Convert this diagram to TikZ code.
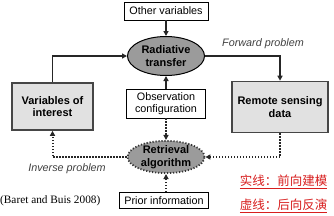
\documentclass[tikz,border=0pt]{standalone}
\usepackage{fontspec}
\setmainfont{Liberation Sans}
\newfontfamily\citefont{Liberation Serif}
\newfontfamily\cjk{Noto Sans CJK SC}
\usetikzlibrary{arrows.meta, positioning, shapes.geometric}
\definecolor{ellgray}{RGB}{155,155,155}
\definecolor{boxgray}{RGB}{225,225,225}
\definecolor{edgegray}{RGB}{70,70,70}
\definecolor{notered}{RGB}{215,30,30}

\begin{document}
\begin{tikzpicture}[
    x=1pt, y=-1pt,
    font=\fontsize{10.8}{12}\selectfont,
    plainbox/.style={rectangle, draw=black, line width=0.8pt, fill=white, inner sep=1pt, align=center},
    mainbox/.style={rectangle, draw=edgegray, line width=1.6pt, fill=boxgray, minimum width=81pt, align=center, font=\fontsize{11}{12.5}\selectfont\bfseries},
    solidell/.style={ellipse, draw=black, line width=1pt, fill=ellgray, minimum width=77pt, minimum height=39pt, inner sep=0pt, align=center, font=\fontsize{11}{12.5}\selectfont\bfseries},
    dotell/.style={solidell, draw=black!80, line width=1.8pt, dash pattern=on 1.2pt off 1.8pt, minimum height=30pt},
    arrow/.style={-{Triangle[length=5pt, width=5pt]}, line width=1.6pt, draw=black!85},
    darrow/.style={arrow, line width=2pt, dash pattern=on 1.2pt off 1.8pt},
    note/.style={text=notered, font=\cjk\fontsize{12.5}{14}\selectfont},
]
    \useasboundingbox (0,0) rectangle (334,215);

    % Forward part
    \node[plainbox, minimum width=84pt, minimum height=18pt] (other) at (166,11) {Other variables};
    \node[solidell] (rt) at (166,56) {Radiative\\transfer};
    \node[mainbox, minimum height=47pt] (vars) at (52.5,106.5) {Variables of\\interest};
    \node[plainbox, minimum width=79pt, minimum height=29pt] (obs) at (166,103.5) {Observation\\configuration};
    \node[mainbox, minimum width=96pt, minimum height=51pt] (rsd) at (280,107) {Remote sensing\\data};

    % Inverse part
    \node[dotell] (ra) at (166,157) {Retrieval\\algorithm};
    \node[plainbox, minimum width=89pt, minimum height=16pt] (prior) at (164,200.5) {Prior information};

    % Labels
    \node[font=\fontsize{10.8}{12}\selectfont\itshape, text=black!75] (fwd) at (263,44) {Forward problem};
    \node[font=\fontsize{10.8}{12}\selectfont\itshape, text=black!75] (inv) at (67,169) {Inverse problem};
    \node[font=\citefont\fontsize{11.3}{13}\selectfont, anchor=west, inner sep=0pt] (cite) at (0,201) {(Baret and Buis 2008)};
    \node[note] (solidnote) at (283.5,182) {\underline{实线：前向建模}};
    \node[note] (dotnote) at (283.5,206) {\underline{虚线：后向反演}};

    % Solid arrows
    \draw[arrow] (other) -- (rt);
    \draw[arrow] (vars.north) |- (rt.west);
    \draw[arrow] (rt.east) -| (rsd.north);
    \draw[arrow] (obs) -- (rt);

    % Dotted arrows
    \draw[darrow] (obs) -- (ra);
    \draw[darrow] (prior.north -| ra) -- (ra);
    \draw[darrow] (rsd.south) |- (ra.east);
    \draw[darrow] (ra.west) -| (vars.south);

\end{tikzpicture}
\end{document}
